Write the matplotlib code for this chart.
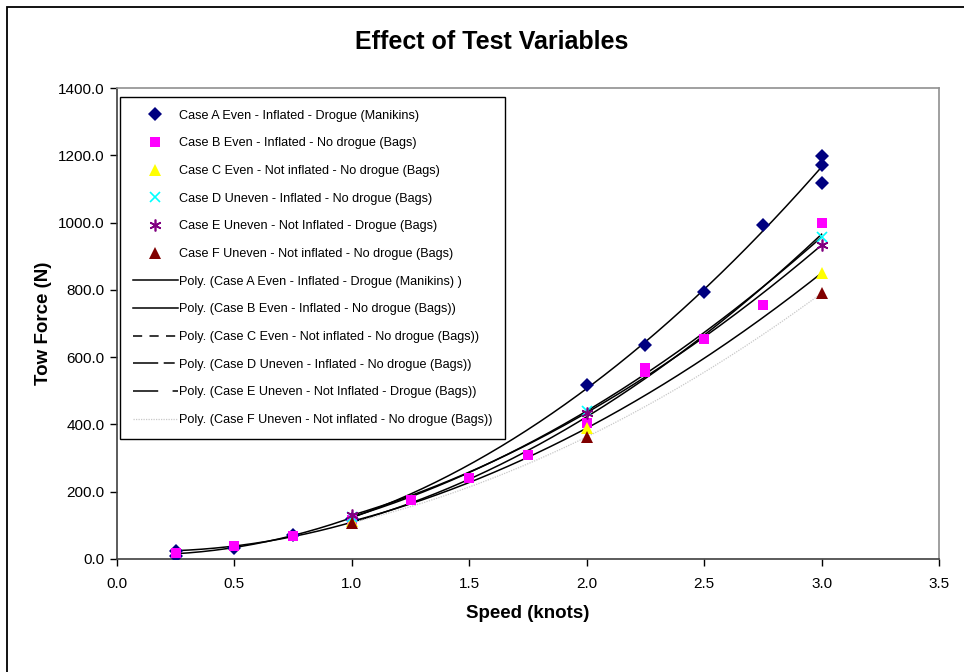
import numpy as np
import matplotlib.pyplot as plt
from matplotlib.lines import Line2D
from matplotlib.patches import Rectangle

plt.rcParams["font.family"] = ["Liberation Sans", "DejaVu Sans"]

# =========================
# DATA
# =========================

speed_a = [0.25, 0.25, 0.5, 0.75, 1.0, 2.0, 2.25, 2.5, 2.75, 3.0, 3.0, 3.0]
force_a = [8, 25, 32, 72, 120, 516, 636, 793, 993, 1198, 1172, 1118]

speed_b = [0.25, 0.5, 0.75, 1.0, 1.25, 1.5, 1.75, 2.0, 2.25, 2.25, 2.5, 2.75, 3.0]
force_b = [18, 40, 68, 115, 175, 240, 308, 404, 568, 555, 655, 755, 1000]

speed_c = [1.0, 2.0, 3.0]
force_c = [112, 389, 850]

speed_d = [1.0, 2.0, 3.0]
force_d = [125, 440, 957]

speed_e = [1.0, 2.0, 3.0]
force_e = [130, 435, 933]

speed_f = [1.0, 2.0, 3.0]
force_f = [108, 363, 790]

labels = [
    "Case A Even - Inflated - Drogue (Manikins)",
    "Case B Even - Inflated - No drogue (Bags)",
    "Case C Even - Not inflated - No drogue (Bags)",
    "Case D Uneven - Inflated - No drogue (Bags)",
    "Case E Uneven - Not Inflated - Drogue (Bags)",
    "Case F Uneven - Not inflated - No drogue (Bags)",
]
trend_labels = [
    "Poly. (Case A Even - Inflated - Drogue (Manikins) )",
    "Poly. (Case B Even - Inflated - No drogue (Bags))",
    "Poly. (Case C Even - Not inflated - No drogue (Bags))",
    "Poly. (Case D Uneven - Inflated - No drogue (Bags))",
    "Poly. (Case E Uneven - Not Inflated - Drogue (Bags))",
    "Poly. (Case F Uneven - Not inflated - No drogue (Bags))",
]

series = [
    (speed_a, force_a), (speed_b, force_b), (speed_c, force_c),
    (speed_d, force_d), (speed_e, force_e), (speed_f, force_f),
]

# =========================
# STYLES
# =========================

markers = [
    dict(marker="D", color="#000080", ms=7, mew=0),
    dict(marker="s", color="#FF00FF", ms=7, mew=0),
    dict(marker="^", color="#FFFF00", ms=8, mew=0),
    dict(marker="x", color="#00FFFF", ms=7, mew=1.2),
    dict(marker=(6, 2, 0), color="#800080", ms=8.5, mew=1.2),
    dict(marker="^", color="#800000", ms=8.5, mew=0),
]
# dash patterns only show in the legend keys; on the short curve
# segments in the plot Excel draws them practically solid
legend_dash = ["-", "-", (0, (6, 4.8)), (0, (16.5, 3.6, 7.2, 3.6)),
               (0, (16.5, 9.4, 7, 9.4)), (0, (1, 1))]
plot_dash = ["-", "-", "-", "-", "-", (0, (1, 1))]
line_colors = ["black"] * 5 + ["#C8C8C8"]

# =========================
# PLOT
# =========================

W, H = 964, 672
fig = plt.figure(figsize=(W / 100, H / 100), dpi=100)
ax = fig.add_axes([117 / W, 1 - 559 / H, (939 - 117) / W, (559 - 88) / H])

handles_pts = []
for (x, y), mk, lab in zip(series, markers, labels):
    h, = ax.plot(x, y, ls="none", label=lab, zorder=3, **mk)
    handles_pts.append(h)

handles_fit = []
for (x, y), ls, lls, c in zip(series, plot_dash, legend_dash, line_colors):
    coef = np.polyfit(x, y, 2)
    xs = np.linspace(min(x), max(x), 200)
    lw = 0.9 if c != "black" else 1.1
    ax.plot(xs, np.polyval(coef, xs), color=c, lw=lw, ls=ls, zorder=2)
    handles_fit.append(Line2D([], [], color=c, lw=lw, ls=lls))

ax.set_xlim(0, 3.5)
ax.set_ylim(0, 1400)
ax.set_xticks(np.arange(0, 3.51, 0.5))
ax.set_yticks(np.arange(0, 1401, 200))
ax.xaxis.set_major_formatter("{x:.1f}")
ax.yaxis.set_major_formatter("{x:.1f}")
ax.tick_params(direction="out", length=5, width=1, labelsize=11, colors="black", pad=4)
ax.tick_params(axis="x", pad=8)

for side in ["left", "bottom"]:
    ax.spines[side].set_color("#404040")
    ax.spines[side].set_linewidth(1.2)
for side in ["top", "right"]:
    ax.spines[side].set_color("#909090")
    ax.spines[side].set_linewidth(1.2)

ax.set_xlabel("Speed (knots)", fontsize=13.5, fontweight="bold", labelpad=10)
ax.set_ylabel("Tow Force (N)", fontsize=13.5, fontweight="bold", labelpad=4)

fig.text(492 / W, 1 - 42 / H, "Effect of Test Variables", fontsize=18,
         fontweight="bold", ha="center", va="center")

leg = ax.legend(handles_pts + handles_fit, labels + trend_labels,
                loc="upper left", bbox_to_anchor=(120 / W, 1 - 97 / H),
                bbox_transform=fig.transFigure, fontsize=9.1,
                handlelength=3.6, handletextpad=0.05, labelspacing=1.24,
                borderpad=1.0, borderaxespad=0, fancybox=False,
                edgecolor="black", framealpha=1, numpoints=1)
leg.get_frame().set_linewidth(1.0)

# outer chart-area border
fig.patches.append(Rectangle((7 / W, -0.1), 1.2, 1 - 7 / H + 0.1,
                             transform=fig.transFigure, fill=False,
                             edgecolor="black", lw=1.3))

fig.savefig("out.png", dpi=100)
